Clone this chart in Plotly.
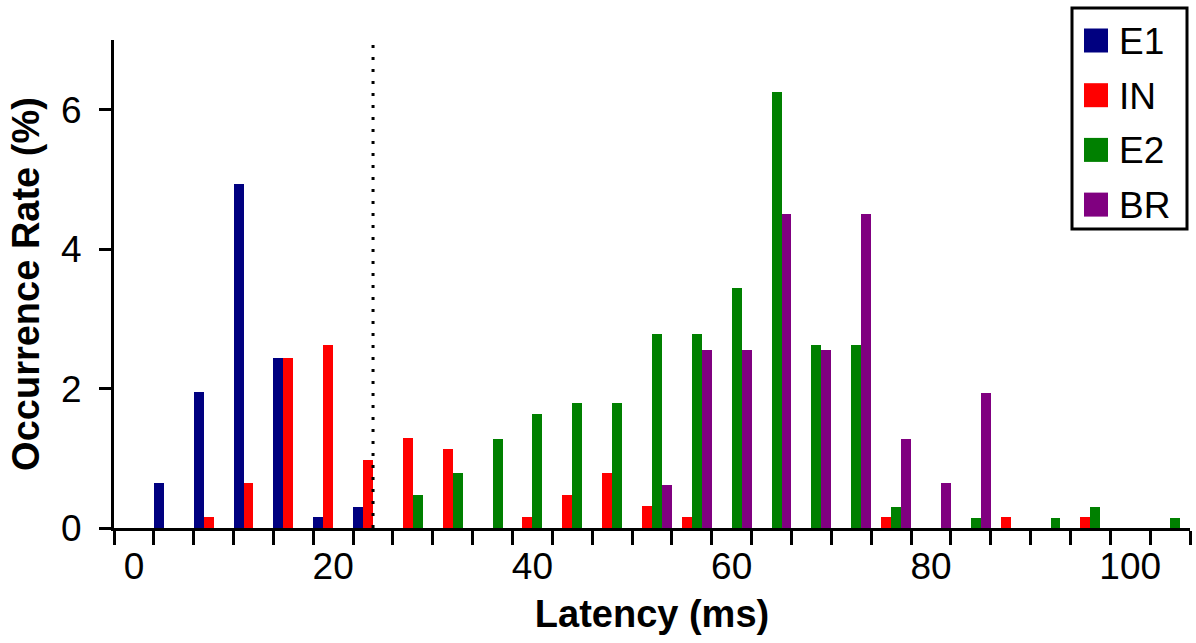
import plotly.graph_objects as go

# ---- data ----
bins = [0, 4, 8, 12, 16, 20, 24, 28, 32, 36, 40, 44, 48, 52, 56, 60, 64, 68, 72, 76, 80, 84, 88, 92, 96, 100, 104]
series_names = ["E1", "IN", "E2", "BR"]
series_colors = ["#000080", "#FF0000", "#008000", "#800080"]
e1 = [0, 0.65, 1.95, 4.94, 2.44, 0.16, 0.30, 0, 0, 0, 0, 0, 0, 0, 0, 0, 0, 0, 0, 0, 0, 0, 0, 0, 0, 0, 0]
inn = [0, 0, 0.16, 0.65, 2.44, 2.62, 0.97, 1.29, 1.13, 0, 0.16, 0.48, 0.79, 0.31, 0.16, 0, 0, 0, 0, 0.16, 0, 0, 0.16, 0, 0.16, 0, 0]
e2 = [0, 0, 0, 0, 0, 0, 0, 0.48, 0.79, 1.27, 1.63, 1.80, 1.80, 2.79, 2.79, 3.44, 6.25, 2.62, 2.62, 0.30, 0, 0.15, 0, 0.15, 0.30, 0, 0.15]
br = [0, 0, 0, 0, 0, 0, 0, 0, 0, 0, 0, 0, 0, 0.62, 2.56, 2.56, 4.51, 2.56, 4.51, 1.28, 0.64, 1.94, 0, 0, 0, 0, 0]
series_values = [e1, inn, e2, br]
x_tick_vals = [0, 20, 40, 60, 80, 100]
y_tick_vals = [0, 2, 4, 6]
cutoff_latency = 24
cutoff_top = 6.93

FONT = "Liberation Sans, Arial, Helvetica, sans-serif"
bin_w = bins[1] - bins[0]
edges = [b - bin_w / 2 for b in bins] + [bins[-1] + bin_w / 2]

fig = go.Figure()
for name, color, vals in zip(series_names, series_colors, series_values):
    fig.add_trace(go.Bar(x=bins, y=vals, name=name, marker=dict(color=color, line=dict(width=0)),
                         showlegend=False))

fig.add_shape(type="line", x0=cutoff_latency, x1=cutoff_latency, y0=0, y1=cutoff_top,
              xref="x", yref="y", line=dict(color="black", width=3, dash="3px,9px"))

# custom legend (pixel layout converted to paper coords)
W, H = 1196, 643
ml, mr, mt, mb = 114, 6, 40, 115
pw, ph = W - ml - mr, H - mt - mb
def px(x):
    return (x - ml) / pw
def py(y):
    return (H - mb - y) / ph

fig.add_shape(type="rect", xref="paper", yref="paper", x0=px(1072), x1=px(1187), y0=py(8), y1=py(229),
              line=dict(color="black", width=3), fillcolor="white")
for i, (name, color) in enumerate(zip(series_names, series_colors)):
    cy = 40.5 + i * 54.7
    fig.add_shape(type="rect", xref="paper", yref="paper", x0=px(1084), x1=px(1108),
                  y0=py(cy - 12), y1=py(cy + 12), line=dict(width=0), fillcolor=color)
    fig.add_annotation(xref="paper", yref="paper", x=px(1117), y=py(cy + 1), text=name, showarrow=False,
                       xanchor="left", yanchor="middle", font=dict(family=FONT, size=37, color="black"))

fig.update_layout(
    width=W, height=H, margin=dict(l=ml, r=mr, t=mt, b=mb),
    paper_bgcolor="white", plot_bgcolor="white",
    barmode="group", bargap=0, bargroupgap=0,
    font=dict(family=FONT, color="black"),
    showlegend=False,
)
fig.update_xaxes(
    range=[edges[0], edges[-1]], showgrid=False, zeroline=False,
    showline=True, linecolor="black", linewidth=3,
    tickmode="array", tickvals=x_tick_vals, ticktext=[str(v) for v in x_tick_vals],
    ticks="outside", ticklen=4, tickcolor="rgba(0,0,0,0)",
    tickfont=dict(family=FONT, size=37, color="black"),
    minor=dict(tickmode="array", tickvals=edges, ticks="outside", ticklen=14, tickwidth=3, tickcolor="black"),
    title=dict(text="<b>Latency (ms)</b>", font=dict(family=FONT, size=38, color="black"), standoff=14),
)
fig.update_yaxes(
    range=[0, 7], showgrid=False, zeroline=False,
    showline=True, linecolor="black", linewidth=3,
    tickmode="array", tickvals=y_tick_vals,
    ticks="outside", ticklen=12, tickwidth=3, tickcolor="black",
    ticklabelstandoff=10,
    tickfont=dict(family=FONT, size=37, color="black"),
    title=dict(text="<b>Occurrence Rate (%)</b>", font=dict(family=FONT, size=38, color="black"), standoff=10),
)

fig.write_html("out.html")
